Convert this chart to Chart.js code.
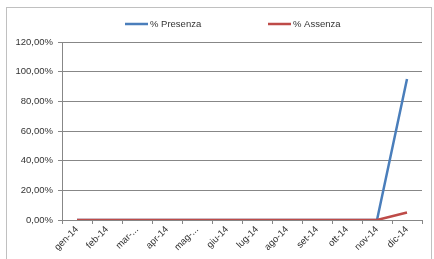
<!DOCTYPE html>
<html>
<head>
<meta charset="utf-8">
<script src="https://cdn.jsdelivr.net/npm/chart.js@4"></script>
<style>
  body { margin: 0; background: #fff; }
  #wrap { position: relative; width: 434px; height: 259px; overflow: hidden; }
  #frame { position: absolute; left: 6px; top: 7px; width: 424px; height: 270px; border: 1px solid #c0c0c0; }
  canvas { position: absolute; left: 0; top: 0; }
</style>
</head>
<body>
<div id="wrap">
  <div id="frame"></div>
  <canvas id="lineChart" width="434" height="259"></canvas>
</div>
<script>
// months shown on the x axis
const months = ['gen-14', 'feb-14', 'mar-...', 'apr-14', 'mag-...', 'giu-14', 'lug-14', 'ago-14', 'set-14', 'ott-14', 'nov-14', 'dic-14'];
// values in percent
const presenza = [0, 0, 0, 0, 0, 0, 0, 0, 0, 0, 0, 95];
const assenza = [0, 0, 0, 0, 0, 0, 0, 0, 0, 0, 0, 5];
const yTicks = [0, 20, 40, 60, 80, 100, 120];

Chart.defaults.font.family = "'Liberation Sans', Arial, sans-serif";
Chart.defaults.font.size = 9.5;
Chart.defaults.color = '#333';

// simple legend at the top, items spread like the excel one
const topLegend = {
  id: 'topLegend',
  afterDraw(chart) {
    const c = chart.ctx;
    const starts = [125, 268];
    const y = 24;
    c.save();
    c.font = "9.5px 'Liberation Sans', Arial, sans-serif";
    c.textBaseline = 'middle';
    chart.data.datasets.forEach((ds, i) => {
      const x = starts[i];
      c.strokeStyle = ds.borderColor;
      c.lineWidth = 2.5;
      c.beginPath();
      c.moveTo(x, y);
      c.lineTo(x + 23, y);
      c.stroke();
      c.fillStyle = '#333';
      c.fillText(ds.label, x + 25, y);
    });
    c.restore();
  }
};

const ctx = document.getElementById('lineChart').getContext('2d');
new Chart(ctx, {
  type: 'line',
  data: {
    labels: months,
    datasets: [
      { label: '% Presenza', data: presenza, borderColor: '#4a7ebb', backgroundColor: '#4a7ebb', borderWidth: 2.5, pointRadius: 0, tension: 0, order: 1 },
      { label: '% Assenza', data: assenza, borderColor: '#be4b48', backgroundColor: '#be4b48', borderWidth: 2.5, pointRadius: 0, tension: 0, order: 0 }
    ]
  },
  options: {
    responsive: false,
    animation: false,
    layout: { padding: { left: 0, right: 12, top: 42, bottom: 0 } },
    plugins: {
      tooltip: { enabled: false },
      legend: { display: false }
    },
    scales: {
      x: {
        offset: true,
        grid: { display: true, drawOnChartArea: false, drawTicks: true, tickLength: 4, offset: true, color: '#878787' },
        border: { color: '#878787' },
        ticks: { maxRotation: 45, minRotation: 45, autoSkip: false, padding: 0 },
        afterFit(scale) { scale.height = 39; }
      },
      y: {
        min: 0,
        max: 120,
        afterBuildTicks(scale) { scale.ticks = yTicks.map(v => ({ value: v })); },
        grid: { color: '#878787', tickLength: 4 },
        border: { color: '#878787' },
        ticks: {
          padding: 5,
          callback: v => v.toFixed(2).replace('.', ',') + '%'
        },
        afterFit(scale) { scale.width = 62; }
      }
    }
  },
  plugins: [topLegend]
});
</script>
</body>
</html>
